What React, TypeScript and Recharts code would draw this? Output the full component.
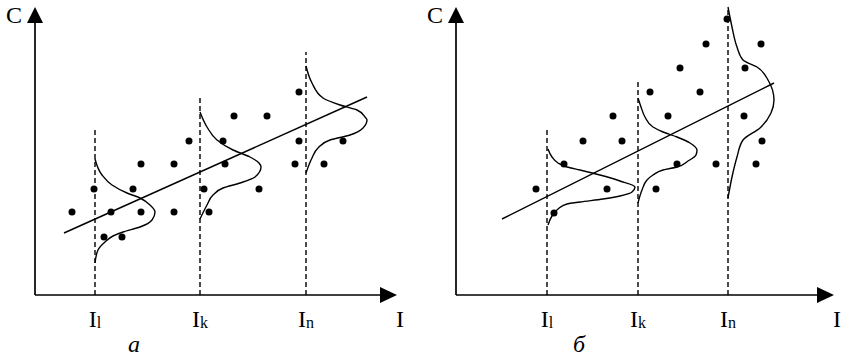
import React from 'react';
import {
  ComposedChart,
  XAxis,
  YAxis,
  Line,
  Scatter,
  ReferenceLine,
  ReferenceDot,
} from 'recharts';

const FONT = '"Liberation Serif", "Times New Roman", serif';

// ---- panel а ----
const dotsA = [
  { x: 37, y: 83 }, { x: 59, y: 106 }, { x: 76, y: 83 }, { x: 69, y: 58 },
  { x: 87, y: 58 }, { x: 98, y: 106 }, { x: 106, y: 83 }, { x: 106, y: 131 },
  { x: 139, y: 131 }, { x: 139, y: 83 }, { x: 154, y: 154 }, { x: 169, y: 106 },
  { x: 174, y: 83 }, { x: 188, y: 154 }, { x: 190, y: 131 }, { x: 199, y: 179 },
  { x: 232, y: 179 }, { x: 224, y: 106 }, { x: 264, y: 203 }, { x: 264, y: 154 },
  { x: 260, y: 131 }, { x: 289, y: 131 }, { x: 308, y: 154 },
];
const trendA = [{ x: 29, y: 62 }, { x: 332, y: 198 }];
const levelsA = [60, 165, 271];
const levelTopsA = [167, 198, 243];
const bellA1 = [
  { x: 60, y: 32 }, { x: 63, y: 45 }, { x: 70, y: 53 }, { x: 78, y: 59 },
  { x: 88, y: 63 }, { x: 105, y: 68 }, { x: 117, y: 75 }, { x: 120, y: 83 },
  { x: 115, y: 90 }, { x: 105, y: 97 }, { x: 92, y: 102 }, { x: 77, y: 110 },
  { x: 67, y: 120 }, { x: 60, y: 136 },
];
const bellA2 = [
  { x: 165, y: 76 }, { x: 172, y: 90 }, { x: 178, y: 100 }, { x: 188, y: 107 },
  { x: 205, y: 112 }, { x: 220, y: 118 }, { x: 226, y: 128 }, { x: 224, y: 132 },
  { x: 215, y: 138 }, { x: 198, y: 145 }, { x: 182, y: 155 }, { x: 172, y: 168 },
  { x: 165, y: 183 },
];
const bellA3 = [
  { x: 271, y: 122 }, { x: 277, y: 137 }, { x: 283, y: 147 }, { x: 295, y: 155 },
  { x: 315, y: 160 }, { x: 328, y: 167 }, { x: 332, y: 175 }, { x: 330, y: 178 },
  { x: 322, y: 185 }, { x: 305, y: 190 }, { x: 288, y: 197 }, { x: 277, y: 212 },
  { x: 271, y: 229 },
];
const ticksA = [60, 165, 271, 365];

// ---- panel б ----
const dotsB = [
  { x: 80, y: 106 }, { x: 108, y: 131 }, { x: 98, y: 82 }, { x: 127, y: 154 },
  { x: 157, y: 179 }, { x: 166, y: 154 }, { x: 151, y: 106 }, { x: 194, y: 203 },
  { x: 212, y: 179 }, { x: 221, y: 131 }, { x: 200, y: 106 }, { x: 224, y: 227 },
  { x: 244, y: 203 }, { x: 250, y: 251 }, { x: 271, y: 276 }, { x: 305, y: 251 },
  { x: 289, y: 227 }, { x: 288, y: 179 }, { x: 306, y: 154 }, { x: 260, y: 131 },
  { x: 300, y: 131 },
];
const trendB = [{ x: 46, y: 76 }, { x: 318, y: 212 }];
const levelsB = [91, 182, 272];
const levelTopsB = [167, 213, 288];
const bellB1 = [
  { x: 92, y: 70 }, { x: 96, y: 79 }, { x: 102, y: 86 }, { x: 111, y: 91 },
  { x: 124, y: 93 }, { x: 147, y: 96 }, { x: 164, y: 99 }, { x: 176, y: 103 },
  { x: 179, y: 108 }, { x: 164, y: 114 }, { x: 144, y: 120 }, { x: 124, y: 125 },
  { x: 111, y: 128 }, { x: 102, y: 132 }, { x: 96, y: 138 }, { x: 92, y: 146 },
];
const bellB2 = [
  { x: 182, y: 92 }, { x: 186, y: 105 }, { x: 191, y: 115 }, { x: 197, y: 120 },
  { x: 207, y: 125 }, { x: 221, y: 128 }, { x: 232, y: 134 }, { x: 240, y: 140 },
  { x: 241, y: 145 }, { x: 234, y: 152 }, { x: 221, y: 158 }, { x: 207, y: 163 },
  { x: 197, y: 168 }, { x: 189, y: 178 }, { x: 185, y: 188 }, { x: 182, y: 197 },
];
const bellB3 = [
  { x: 272, y: 97 }, { x: 276, y: 118 }, { x: 281, y: 138 }, { x: 287, y: 155 },
  { x: 304, y: 167 }, { x: 315, y: 182 }, { x: 318, y: 195 }, { x: 312, y: 215 },
  { x: 301, y: 228 }, { x: 287, y: 235 }, { x: 281, y: 248 }, { x: 276, y: 268 },
  { x: 272, y: 288 },
];
const ticksB = [91, 182, 272, 381];

const tickSubs = ['l', 'k', 'n', ''];
const Y_TOP = 290;
const Y_ARROW = 288;

const UpArrow = (props: any) => {
  const { cx, cy } = props;
  return <polygon points={`${cx},${cy} ${cx - 8},${cy + 16} ${cx + 8},${cy + 16}`} fill="#000" />;
};

const RightArrow = (props: any) => {
  const { cx, cy } = props;
  return <polygon points={`${cx},${cy} ${cx - 17},${cy - 8} ${cx - 17},${cy + 8}`} fill="#000" />;
};

const Dot = (props: any) => <circle cx={props.cx} cy={props.cy} r={3.5} fill="#000" />;

function Panel(props: any) {
  const { marginLeft, xMax, dots, trend, levels, tops, bells, ticks, caption, captionX, arrowX } = props;

  const renderTick = (p: any) => {
    const i = ticks.indexOf(p.payload.value);
    return (
      <text x={p.x} y={p.y + 32} textAnchor="middle" fontFamily={FONT} fontSize={24} fill="#000">
        I
        {tickSubs[i] ? (
          <tspan fontSize={16} dy={1}>
            {tickSubs[i]}
          </tspan>
        ) : null}
      </text>
    );
  };

  return (
    <ComposedChart width={422} height={358} margin={{ top: 5, right: 0, bottom: 0, left: marginLeft }}>
      <XAxis
        type="number"
        dataKey="x"
        domain={[0, xMax]}
        ticks={ticks}
        interval={0}
        axisLine={false}
        tickLine={false}
        tickSize={0}
        tickMargin={0}
        height={63}
        tick={renderTick}
      />
      <YAxis type="number" dataKey="y" domain={[0, Y_TOP]} hide />

      {/* axes */}
      <ReferenceLine segment={[{ x: 0, y: 0 }, { x: 0, y: Y_ARROW - 4 }]} stroke="#000" strokeWidth={1.7} />
      <ReferenceLine segment={[{ x: 0, y: 0 }, { x: arrowX - 4, y: 0 }]} stroke="#000" strokeWidth={1.7} />

      {/* dashed verticals at I1, Ik, In */}
      {levels.map((lx: number, i: number) => (
        <ReferenceLine
          key={'lv' + i}
          segment={[{ x: lx, y: 0 }, { x: lx, y: tops[i] }]}
          stroke="#000"
          strokeWidth={1.4}
          strokeDasharray="5 3"
        />
      ))}

      <Line data={trend} dataKey="y" type="linear" stroke="#000" strokeWidth={1.5} dot={false} activeDot={false} isAnimationActive={false} />
      {bells.map((b: any[], i: number) => (
        <Line
          key={'bell' + i}
          data={b}
          dataKey="y"
          type="monotoneY"
          stroke="#000"
          strokeWidth={1.4}
          dot={false}
          activeDot={false}
          isAnimationActive={false}
        />
      ))}

      <Scatter data={dots} dataKey="y" shape={Dot} isAnimationActive={false} />
      <Scatter data={[{ x: 0, y: Y_ARROW }]} dataKey="y" shape={UpArrow} isAnimationActive={false} />
      <Scatter data={[{ x: arrowX, y: 0 }]} dataKey="y" shape={RightArrow} isAnimationActive={false} />

      {/* "C" next to the vertical arrow */}
      <ReferenceDot
        x={0}
        y={Y_ARROW}
        r={0}
        fill="none"
        stroke="none"
        label={{
          content: (lp: any) => (
            <text x={lp.viewBox.x - 21} y={lp.viewBox.y + 16} textAnchor="middle" fontFamily={FONT} fontSize={24} fill="#000">
              C
            </text>
          ),
        }}
      />
      {/* panel caption */}
      <ReferenceDot
        x={captionX}
        y={0}
        r={0}
        fill="none"
        stroke="none"
        label={{
          content: (lp: any) => (
            <text x={lp.viewBox.x} y={lp.viewBox.y + 57} textAnchor="middle" fontFamily={FONT} fontSize={24} fontStyle="italic" fill="#000">
              {caption}
            </text>
          ),
        }}
      />
    </ComposedChart>
  );
}

export default function App() {
  return (
    <div style={{ position: 'absolute', left: 0, top: 0, width: 844, height: 358, background: '#fff', display: 'flex' }}>
      <Panel
        marginLeft={35}
        xMax={387}
        dots={dotsA}
        trend={trendA}
        levels={levelsA}
        tops={levelTopsA}
        bells={[bellA1, bellA2, bellA3]}
        ticks={ticksA}
        caption="а"
        captionX={99}
        arrowX={362}
      />
      <Panel
        marginLeft={34}
        xMax={388}
        dots={dotsB}
        trend={trendB}
        levels={levelsB}
        tops={levelTopsB}
        bells={[bellB1, bellB2, bellB3]}
        ticks={ticksB}
        caption="б"
        captionX={123}
        arrowX={378}
      />
    </div>
  );
}
